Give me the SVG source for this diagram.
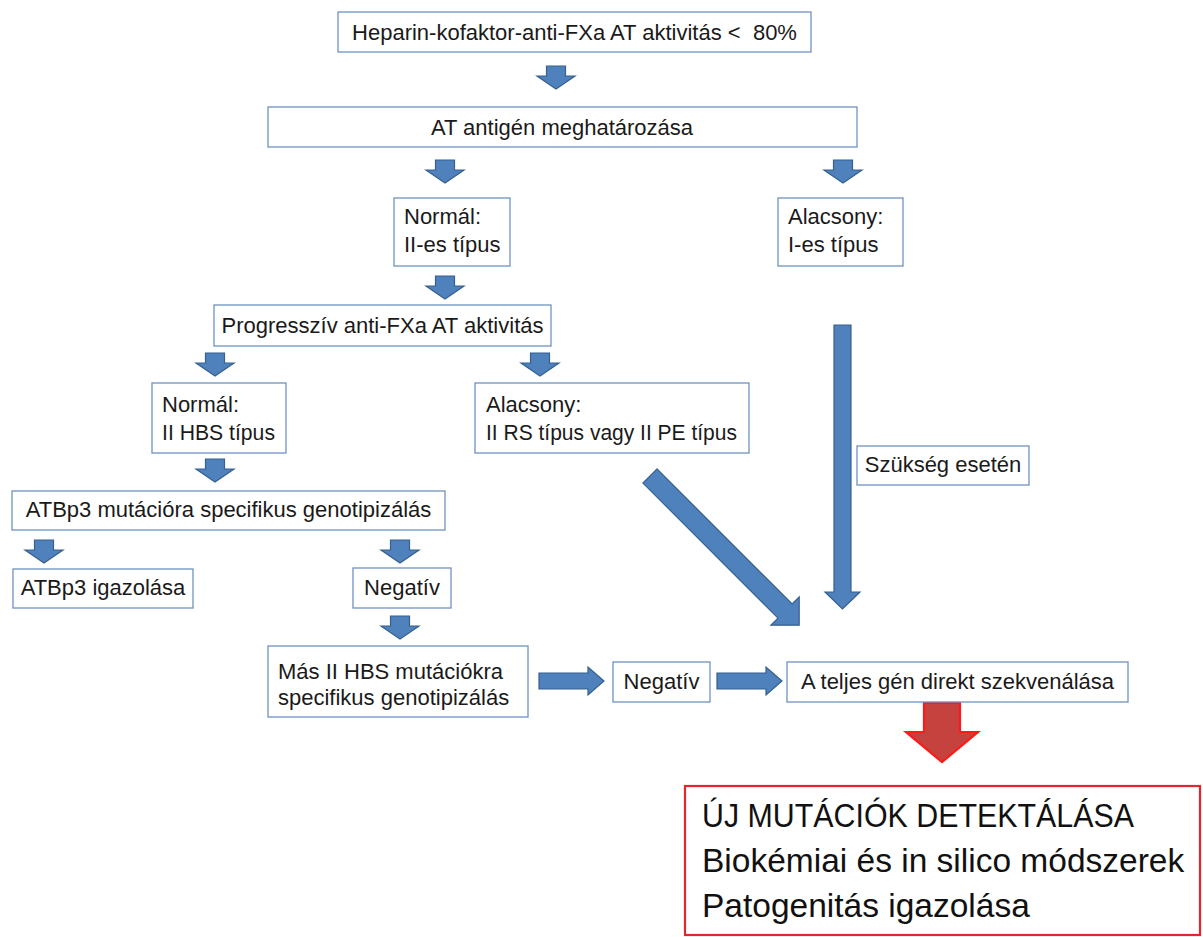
<svg xmlns="http://www.w3.org/2000/svg" xmlns:xlink="http://www.w3.org/1999/xlink" width="1203" height="937" viewBox="0 0 1203 937">
<style>
.box{fill:#ffffff;stroke:#6f93c0;stroke-width:1.3}
.t{font-family:"Liberation Sans",Arial,sans-serif;font-size:22px;fill:#1a1a1a}
.c{text-anchor:middle}
.big{font-family:"Liberation Sans",Arial,sans-serif;font-size:33.5px;fill:#111111}
.arr{fill:#4f81bd;stroke:#35608f;stroke-width:1.2;stroke-linejoin:miter}
.red{fill:#c6423f;stroke:#ff1a1a;stroke-width:2.2}
</style>
<defs>
<path id="down" d="M -9.5 0 H 9.5 V 10 H 19 L 0 23 L -19 10 H -9.5 Z"/>
<path id="right" d="M 0 -8 H 49 V -14 L 65 0 L 49 14 V 8 H 0 Z"/>
</defs>
<rect width="1203" height="937" fill="#ffffff"/>

<g id="connectors">
<use xlink:href="#down" href="#down" class="arr" x="556" y="66"/>
<use xlink:href="#down" href="#down" class="arr" x="445" y="160"/>
<use xlink:href="#down" href="#down" class="arr" x="843" y="160"/>
<use xlink:href="#down" href="#down" class="arr" x="445" y="276"/>
<use xlink:href="#down" href="#down" class="arr" x="215" y="353"/>
<use xlink:href="#down" href="#down" class="arr" x="540" y="353"/>
<use xlink:href="#down" href="#down" class="arr" x="215" y="459"/>
<use xlink:href="#down" href="#down" class="arr" x="44" y="540"/>
<use xlink:href="#down" href="#down" class="arr" x="400" y="540"/>
<use xlink:href="#down" href="#down" class="arr" x="400" y="616"/>
<use xlink:href="#right" href="#right" class="arr" x="539" y="681"/>
<use xlink:href="#right" href="#right" class="arr" x="717" y="681"/>
<path class="arr" d="M834 325 H851 V592 H860 L842.5 609 L825 592 H834 Z"/>
<path class="arr" transform="translate(650 476) rotate(45)" d="M0 -10 H191 V-20 L211 0 L191 20 V10 H0 Z"/>
<path class="red" d="M924 703 H960 V732 H978 L942 762 L906 732 H924 Z"/>
</g>

<g id="n1">
<rect class="box" x="338" y="12" width="473" height="40"/>
<text class="t c" x="574.5" y="40" xml:space="preserve">Heparin-kofaktor-anti-FXa AT aktivitás &lt;  80%</text>
</g>
<g id="n2">
<rect class="box" x="268" y="107" width="589" height="40"/>
<text class="t c" x="562" y="135">AT antigén meghatározása</text>
</g>
<g id="n3">
<rect class="box" x="394" y="198" width="116" height="68"/>
<text class="t" x="404" y="224">Normál:</text>
<text class="t" x="404" y="252">II-es típus</text>
</g>
<g id="n4">
<rect class="box" x="778" y="198" width="125" height="68"/>
<text class="t" x="788" y="224">Alacsony:</text>
<text class="t" x="788" y="252">I-es típus</text>
</g>
<g id="n5">
<rect class="box" x="214" y="305" width="337" height="41"/>
<text class="t c" x="382.5" y="333">Progresszív anti-FXa AT aktivitás</text>
</g>
<g id="n6">
<rect class="box" x="152" y="383" width="134" height="70"/>
<text class="t" x="162" y="412">Normál:</text>
<text class="t" x="162" y="440" textLength="113" lengthAdjust="spacingAndGlyphs">II HBS típus</text>
</g>
<g id="n7">
<rect class="box" x="475" y="383" width="274" height="70"/>
<text class="t" x="486" y="412">Alacsony:</text>
<text class="t" x="486" y="440" textLength="251" lengthAdjust="spacingAndGlyphs">II RS típus vagy II PE típus</text>
</g>
<g id="n8">
<rect class="box" x="857" y="446" width="172" height="39"/>
<text class="t c" x="943" y="472">Szükség esetén</text>
</g>
<g id="n9">
<rect class="box" x="12" y="491" width="433" height="39"/>
<text class="t c" x="228.5" y="517">ATBp3 mutációra specifikus genotipizálás</text>
</g>
<g id="n10">
<rect class="box" x="13" y="569" width="180" height="39"/>
<text class="t c" x="103" y="595">ATBp3 igazolása</text>
</g>
<g id="n11">
<rect class="box" x="353" y="568" width="98" height="40"/>
<text class="t c" x="402" y="595">Negatív</text>
</g>
<g id="n12">
<rect class="box" x="268" y="646" width="260" height="71"/>
<text class="t" x="278" y="679">Más II HBS mutációkra</text>
<text class="t" x="278" y="705">specifikus genotipizálás</text>
</g>
<g id="n13">
<rect class="box" x="613" y="662" width="97" height="40"/>
<text class="t c" x="661.5" y="689">Negatív</text>
</g>
<g id="n14">
<rect class="box" x="787" y="662" width="341" height="40"/>
<text class="t c" x="957.5" y="689">A teljes gén direkt szekvenálása</text>
</g>
<g id="n15">
<rect x="685" y="786" width="515" height="149" fill="#ffffff" stroke="#e3262a" stroke-width="2.2"/>
<text class="big" x="702" y="827" textLength="432" lengthAdjust="spacingAndGlyphs">ÚJ MUTÁCIÓK DETEKTÁLÁSA</text>
<text class="big" x="702" y="872">Biokémiai és in silico módszerek</text>
<text class="big" x="702" y="917">Patogenitás igazolása</text>
</g>
</svg>
